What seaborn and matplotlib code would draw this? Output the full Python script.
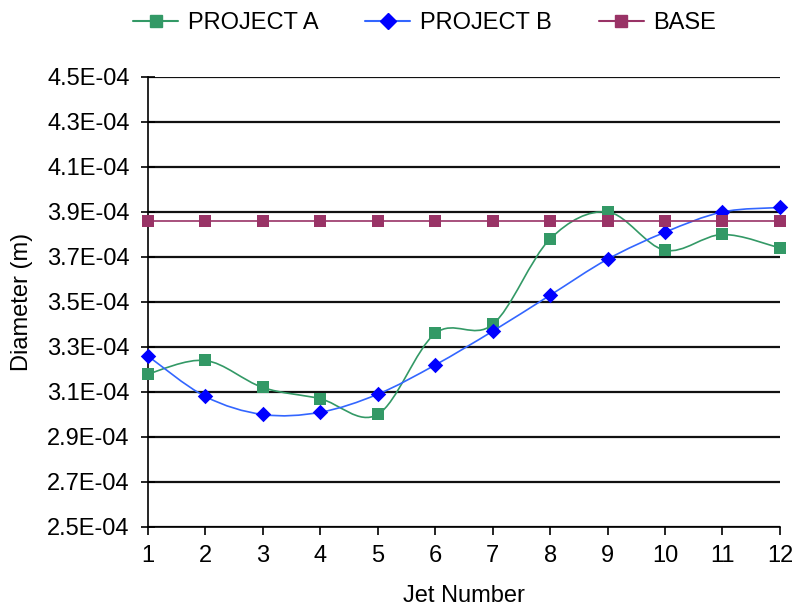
import numpy as np
import pandas as pd
import matplotlib
matplotlib.use("Agg")
import matplotlib.pyplot as plt
from matplotlib.path import Path
from matplotlib.patches import PathPatch
from matplotlib.lines import Line2D
from matplotlib.ticker import FuncFormatter
import seaborn as sns

# Measured jet diameters (m) per jet
jets = [1, 2, 3, 4, 5, 6, 7, 8, 9, 10, 11, 12]
project_a = [3.18e-4, 3.24e-4, 3.12e-4, 3.07e-4, 3.00e-4, 3.36e-4,
             3.40e-4, 3.78e-4, 3.90e-4, 3.73e-4, 3.80e-4, 3.74e-4]
project_b = [3.26e-4, 3.08e-4, 3.00e-4, 3.01e-4, 3.09e-4, 3.22e-4,
             3.37e-4, 3.53e-4, 3.69e-4, 3.81e-4, 3.90e-4, 3.92e-4]
base = [3.86e-4] * 12
series_names = ["PROJECT A", "PROJECT B", "BASE"]

sns.set_theme(style="white")
plt.rcParams["font.family"] = ["Liberation Sans", "DejaVu Sans"]
plt.rcParams["text.color"] = "black"
plt.rcParams["axes.labelcolor"] = "black"
plt.rcParams["xtick.color"] = "black"
plt.rcParams["ytick.color"] = "black"

FS = 17

df = pd.DataFrame({"Jet": jets, "PROJECT A": project_a,
                   "PROJECT B": project_b, "BASE": base})

fig = plt.figure(figsize=(7.95, 6.14), dpi=100)
ax = fig.add_axes([0.186, 0.1417, 0.795, 0.7329])


def smooth_path(xs, ys):
    """Cubic Bezier path through the points (spreadsheet-style smoothing)."""
    xs = list(xs)
    ys = list(ys)
    n = len(xs)
    verts = [(xs[0], ys[0])]
    codes = [Path.MOVETO]
    for i in range(n - 1):
        p0 = i - 1 if i > 0 else i
        p3 = i + 2 if i + 2 < n else i + 1
        c1 = (xs[i] + (xs[i + 1] - xs[p0]) / 6, ys[i] + (ys[i + 1] - ys[p0]) / 6)
        c2 = (xs[i + 1] - (xs[p3] - xs[i]) / 6, ys[i + 1] - (ys[p3] - ys[i]) / 6)
        verts += [c1, c2, (xs[i + 1], ys[i + 1])]
        codes += [Path.CURVE4] * 3
    return Path(verts, codes)


styles = {
    "PROJECT A": dict(line="#339966", face="#339966", marker="s", size=78),
    "PROJECT B": dict(line="#3366FF", face="#0000FF", marker="D", size=62),
    "BASE": dict(line="#993366", face="#993366", marker="s", size=78),
}

z = 3
for name in series_names:
    st = styles[name]
    patch = PathPatch(smooth_path(df["Jet"], df[name]), fill=False,
                      edgecolor=st["line"], linewidth=1.2, zorder=z)
    ax.add_patch(patch)
    sns.scatterplot(data=df, x="Jet", y=name, marker=st["marker"], s=st["size"],
                    color=st["face"], edgecolor=st["face"], linewidth=0,
                    ax=ax, legend=False, zorder=z + 0.5, clip_on=False)
    z += 1

# Axes, ticks and grid
ax.set_xlim(1, 12)
ax.set_ylim(2.5e-4, 4.5e-4)
ax.set_xticks(jets)
ax.set_yticks(np.arange(2.5e-4, 4.51e-4, 0.2e-4))
ax.yaxis.set_major_formatter(FuncFormatter(lambda v, p: f"{v:.1E}"))
ax.yaxis.grid(True, color="#111111", linewidth=1.6)
ax.xaxis.grid(False)
ax.set_axisbelow(True)
for side in ("top", "right"):
    ax.spines[side].set_visible(False)
for side in ("left", "bottom"):
    ax.spines[side].set_color("black")
    ax.spines[side].set_linewidth(1.2)
ax.tick_params(axis="y", direction="inout", length=10, width=1.2,
               color="black", labelsize=FS, pad=8, left=True)
ax.tick_params(axis="x", direction="out", length=6, width=1.2,
               color="black", labelsize=FS, pad=7, bottom=True)
ax.set_xlabel("Jet Number", fontsize=FS, labelpad=13)
ax.set_ylabel("Diameter (m)", fontsize=FS, labelpad=10)

handles = [Line2D([0], [0], color=styles[n]["line"], linewidth=1.5,
                  marker=styles[n]["marker"],
                  markersize=9 if styles[n]["marker"] == "s" else 8,
                  markerfacecolor=styles[n]["face"],
                  markeredgecolor=styles[n]["face"]) for n in series_names]
fig.legend(handles, series_names, loc="center", bbox_to_anchor=(0.534, 0.962),
           ncol=3, frameon=False, fontsize=FS, handlelength=1.9,
           handletextpad=0.4, columnspacing=2.0)

fig.savefig("out.png", dpi=100)
